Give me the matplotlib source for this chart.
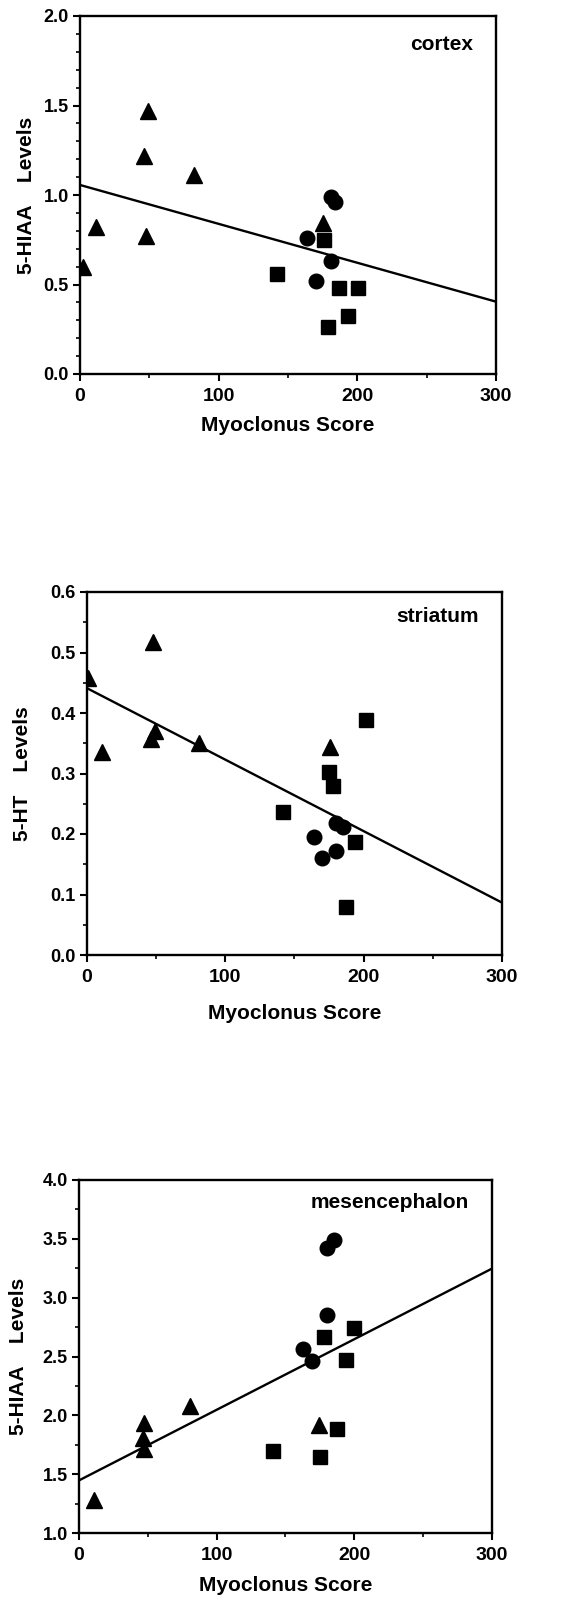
import matplotlib
matplotlib.use("Agg")
import matplotlib.pyplot as plt
from matplotlib.ticker import MultipleLocator

plt.rcParams['font.family'] = ['Liberation Sans', 'DejaVu Sans']
plt.rcParams['font.weight'] = 'bold'

# cortex (5-HIAA)
cx_tri_x = [2, 11.5, 49, 46, 47.6, 82, 175]
cx_tri_y = [0.60, 0.82, 1.47, 1.22, 0.77, 1.11, 0.845]
cx_cir_x = [164, 170, 181, 184, 181]
cx_cir_y = [0.76, 0.52, 0.99, 0.96, 0.63]
cx_sq_x = [142, 175.6, 187, 200.6, 193, 179]
cx_sq_y = [0.56, 0.75, 0.48, 0.48, 0.326, 0.264]
cx_fit_x = [0, 300]
cx_fit_y = [1.056, 0.404]

# striatum (5-HT)
st_tri_x = [1, 11, 48, 46, 49, 81, 176]
st_tri_y = [0.458, 0.336, 0.518, 0.357, 0.37, 0.351, 0.343]
st_cir_x = [164, 170, 180, 185, 180]
st_cir_y = [0.195, 0.161, 0.218, 0.211, 0.172]
st_sq_x = [142, 175, 178, 202, 194, 187]
st_sq_y = [0.237, 0.302, 0.279, 0.388, 0.186, 0.080]
st_fit_x = [0, 300]
st_fit_y = [0.441, 0.0866]

# mesencephalon (5-HIAA)
ms_tri_x = [11, 47, 46.7, 47, 80.6, 174]
ms_tri_y = [1.283, 1.934, 1.807, 1.71, 2.08, 1.92]
ms_cir_x = [163, 169, 180.5, 180.5, 185]
ms_cir_y = [2.56, 2.466, 2.854, 3.42, 3.49]
ms_sq_x = [141, 175, 187.5, 178, 200, 194]
ms_sq_y = [1.70, 1.65, 1.886, 2.664, 2.74, 2.47]
ms_fit_x = [0, 300]
ms_fit_y = [1.447, 3.247]

x_ticks = [0, 100, 200, 300]


def draw_panel(ax, tri, cir, sq, fit, ylim, ymajor, yminor, ylabel, region,
               ylab_x, xlab_y, region_y):
    ax.plot(fit[0], fit[1], color='black', lw=1.7, zorder=2)
    ax.plot(tri[0], tri[1], '^', color='black', ms=12, zorder=3)
    ax.plot(cir[0], cir[1], 'o', color='black', ms=10.5, zorder=3)
    ax.plot(sq[0], sq[1], 's', color='black', ms=9.5, zorder=3)

    ax.set_xlim(0, 300)
    ax.set_ylim(*ylim)
    ax.set_xticks(x_ticks)
    ax.xaxis.set_minor_locator(MultipleLocator(50))
    ax.yaxis.set_major_locator(MultipleLocator(ymajor))
    ax.yaxis.set_minor_locator(MultipleLocator(yminor))
    ax.yaxis.set_major_formatter(plt.FormatStrFormatter('%.1f'))

    for s in ax.spines.values():
        s.set_linewidth(1.7)
    ax.tick_params(which='major', direction='out', length=5, width=1.5)
    ax.tick_params(which='minor', direction='out', length=3, width=1.2)
    ax.tick_params(axis='x', which='major', labelsize=14, pad=5)
    ax.tick_params(axis='y', which='major', labelsize=13, pad=3)
    for lab in ax.get_xticklabels() + ax.get_yticklabels():
        lab.set_fontweight('bold')

    ax.set_xlabel('Myoclonus Score', fontsize=15, fontweight='bold', va='center')
    ax.xaxis.set_label_coords(0.5, xlab_y)
    ax.set_ylabel(ylabel, fontsize=15, fontweight='bold', va='center')
    ax.yaxis.set_label_coords(ylab_x, 0.5)
    ax.text(0.945, region_y, region, transform=ax.transAxes, ha='right',
            va='baseline', fontsize=15, fontweight='bold')


fig = plt.figure(figsize=(5.82, 16), dpi=100)
ax1 = fig.add_axes([0.1375, 0.76625, 0.7148, 0.22375])
ax2 = fig.add_axes([0.1495, 0.403125, 0.713, 0.226875])
ax3 = fig.add_axes([0.1357, 0.041875, 0.7096, 0.220625])

draw_panel(ax1, (cx_tri_x, cx_tri_y), (cx_cir_x, cx_cir_y), (cx_sq_x, cx_sq_y),
           (cx_fit_x, cx_fit_y), (0, 2.0), 0.5, 0.1, '5-HIAA    Levels', 'cortex',
           -0.128, -0.145, 0.905)
draw_panel(ax2, (st_tri_x, st_tri_y), (st_cir_x, st_cir_y), (st_sq_x, st_sq_y),
           (st_fit_x, st_fit_y), (0, 0.6), 0.1, 0.05, '5-HT    Levels', 'striatum',
           -0.155, -0.16, 0.917)
draw_panel(ax3, (ms_tri_x, ms_tri_y), (ms_cir_x, ms_cir_y), (ms_sq_x, ms_sq_y),
           (ms_fit_x, ms_fit_y), (1.0, 4.0), 0.5, 0.25, '5-HIAA    Levels', 'mesencephalon',
           -0.146, -0.15, 0.92)

fig.savefig('out.png', dpi=100)
